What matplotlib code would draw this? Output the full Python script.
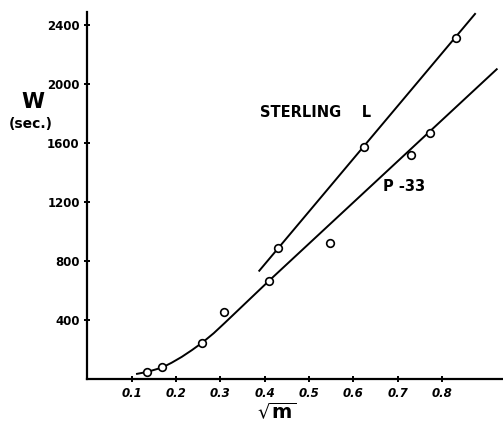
import matplotlib
matplotlib.use("Agg")
import matplotlib.pyplot as plt

sterling_x = [0.43, 0.624, 0.833]
sterling_y = [886, 1573, 2314]

p33_x = [0.135, 0.169, 0.259, 0.308, 0.41, 0.548, 0.73, 0.774]
p33_y = [47, 79, 242, 456, 666, 922, 1519, 1666]

# Hand-drawn fit lines
sterling_fit_x = [0.388, 0.875]
sterling_fit_y = [734, 2475]

p33_fit_x = [0.112, 0.135, 0.169, 0.19, 0.213, 0.236, 0.26, 0.285, 0.31, 0.41, 0.924]
p33_fit_y = [35, 48, 78, 110, 150, 196, 248, 310, 380, 666, 2100]

xticks = [0.1, 0.2, 0.3, 0.4, 0.5, 0.6, 0.7, 0.8]
xtick_labels = ["0.1", "0.2", "0.3", "0.4", "0.5", "0.6", "0.7", "0.8"]
yticks = [400, 800, 1200, 1600, 2000, 2400]

W, H = 503, 423
fig = plt.figure(figsize=(W / 100, H / 100), dpi=100)
ax = fig.add_axes([87.4 / W, (H - 379) / H, (W - 87.4) / W, (379 - 12) / H])

ax.plot(sterling_fit_x, sterling_fit_y, color="black", lw=1.4)
ax.plot(p33_fit_x, p33_fit_y, color="black", lw=1.4)
ax.plot(sterling_x, sterling_y, "o", ms=5.5, mfc="white", mec="black", mew=1.2)
ax.plot(p33_x, p33_y, "o", ms=5.5, mfc="white", mec="black", mew=1.2)

ax.set_xlim(0, (W - 87.4) / 443)
ax.set_ylim(0, 2488)

for s in ["top", "right"]:
    ax.spines[s].set_visible(False)
ax.spines["left"].set_linewidth(1.6)
ax.spines["bottom"].set_linewidth(1.6)

ax.set_xticks(xticks)
ax.set_xticklabels(xtick_labels, fontsize=8.5, fontweight="bold", style="italic")
ax.set_yticks(yticks)
ax.set_yticklabels([str(v) for v in yticks], fontsize=8.5, fontweight="bold")
ax.tick_params(direction="inout", length=5, width=1.4, pad=3)

ax.text(0.39, 1810, "STERLING    L", fontsize=10.5, fontweight="bold", ha="left", va="center")
ax.text(0.715, 1302, "P -33", fontsize=10.5, fontweight="bold", ha="center", va="center")

fig.text(33 / W, 1 - 102 / H, "W", fontsize=15, fontweight="bold", ha="center", va="center")
fig.text(31 / W, 1 - 124 / H, "(sec.)", fontsize=10, fontweight="bold", ha="center", va="center")
fig.text(277 / W, 1 - 412 / H, r"$\sqrt{\mathbf{m}}$", fontsize=14, ha="center", va="center")

fig.savefig("out.png", dpi=100)
